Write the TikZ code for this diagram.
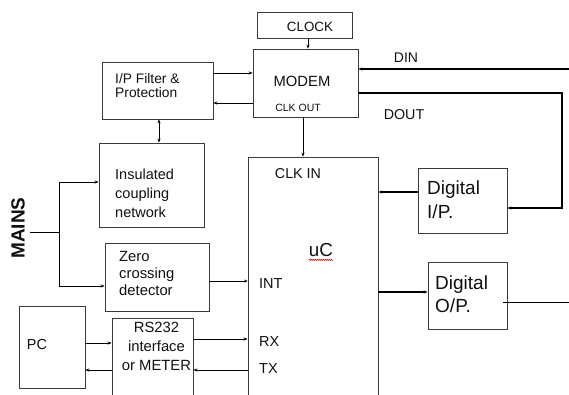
\documentclass[tikz,border=0pt]{standalone}
\usepackage{fontspec}
\setmainfont{Liberation Sans}
\usetikzlibrary{arrows.meta,decorations.pathmorphing}
\definecolor{ln}{HTML}{3A3A3A}
\definecolor{tx}{HTML}{111111}
\tikzset{
  box/.style={draw=ln, line width=0.8pt, rectangle, inner sep=0pt},
  arr/.style={-{Stealth[length=4pt,width=3.2pt]}, line width=0.9pt, draw=black},
  darr/.style={{Stealth[length=4pt,width=3.2pt]}-{Stealth[length=4pt,width=3.2pt]}, line width=0.9pt},
  thinarr/.style={-{Stealth[length=3.5pt,width=3pt]}, line width=0.6pt},
  thick2/.style={line width=1.3pt},
  lbl/.style={text=tx, inner sep=0pt, font=\fontsize{14.5}{19}\selectfont},
}
\begin{document}
\begin{tikzpicture}[x=1pt,y=-1pt]
\path[use as bounding box] (0,0) rectangle (569,394);
\clip (0,0) rectangle (569,394);
\fill[white] (0,0) rectangle (569,394);

% boxes
\node[box, minimum width=95pt, minimum height=26pt] (clock) at (304.5,25) {};
\node[box, minimum width=105pt, minimum height=68pt] (modem) at (305.5,83) {};
\node[box, minimum width=111pt, minimum height=57pt] (ipf) at (157.5,90.5) {};
\node[box, minimum width=105pt, minimum height=84pt] (ins) at (151.5,185) {};
\node[box, minimum width=104pt, minimum height=68pt] (zero) at (157,277) {};
\node[box, minimum width=66pt, minimum height=82pt] (pc) at (52,347) {};
\node[box, minimum width=81pt, minimum height=84pt] (rs) at (152.5,360) {};
\node[box, minimum width=130pt, minimum height=245pt] (uc) at (313,279.5) {};
\node[box, minimum width=89pt, minimum height=65pt] (dip) at (462.5,200.5) {};
\node[box, minimum width=79pt, minimum height=67pt] (dop) at (467.5,295.5) {};

% texts
\node[lbl, font=\fontsize{13.4}{16}\selectfont] (tclock) at (310,27) {CLOCK};
\node[lbl, font=\fontsize{14.8}{18}\selectfont] (tmodem) at (302,81) {MODEM};
\node[lbl, font=\fontsize{10.5}{13}\selectfont] (tclkout) at (298,108) {CLK OUT};
\node[lbl, font=\fontsize{14}{17}\selectfont] (tdin) at (406,58) {DIN};
\node[lbl, font=\fontsize{14.3}{17}\selectfont] (tdout) at (404,115) {DOUT};
\node[lbl, anchor=west, align=left, font=\fontsize{13.8}{14}\selectfont] (tipf) at (115,86) {I/P Filter \&\\Protection};
\node[lbl, anchor=west, align=left] (tins) at (115,193) {Insulated\\coupling\\network};
\node[lbl, anchor=west, align=left, font=\fontsize{14.8}{17}\selectfont] (tzero) at (119,273) {Zero\\crossing\\detector};
\node[lbl, align=center, font=\fontsize{14.8}{19}\selectfont] (trs) at (156.5,346) {RS232\\interface\\or METER};
\node[lbl] (tpc) at (37,344) {PC};
\node[lbl, font=\fontsize{14.3}{17}\selectfont] (tclkin) at (298,174) {CLK IN};
\node[lbl, font=\fontsize{18.8}{22}\selectfont] (tuc) at (321,250) {uC};
\draw[red!80!black, line width=0.5pt, decorate, decoration={zigzag, segment length=2pt, amplitude=0.6pt}] (tuc.south west) ++(0,3) -- ++(24,0);
\node[lbl, anchor=west] (tint) at (259,284) {INT};
\node[lbl, anchor=west] (trx) at (259,342) {RX};
\node[lbl, anchor=west] (ttx) at (259,369) {TX};
\node[lbl, anchor=west, align=left, font=\fontsize{19}{24}\selectfont] (tdip) at (427,200) {Digital\\I/P.};
\node[lbl, anchor=west, align=left, font=\fontsize{19}{23}\selectfont] (tdop) at (435,294.5) {Digital\\O/P.};
\node[lbl, rotate=90, font=\fontsize{19}{22}\selectfont\bfseries] (tmains) at (18,228) {MAINS};

% coordinates
\coordinate (din) at (569,69);
\coordinate (doutcorner) at (562,93);
\coordinate (dopend) at (569,302);
\coordinate (mainsin) at (30,232);
\coordinate (mtop) at (59,182);
\coordinate (mbot) at (59,286);

% connectors
\draw[arr, line width=0.7pt] (clock.south -| 308,0) -- (modem.north -| 308,0);
\draw[arr] (ipf.east |- 0,73) -- (modem.west |- 0,73);
\draw[arr] (modem.west |- 0,103) -- (ipf.east |- 0,103);
\draw[darr] (ipf.south -| 159,0) -- (ins.north -| 159,0);
\draw[arr, thick2] (din) -- (modem.east |- din);
\draw[arr, thick2] (modem.east |- doutcorner) -- (doutcorner) -- (doutcorner |- 0,208) -- (dip.east |- 0,208);
\draw[arr] (modem.south -| 303,0) -- (uc.north -| 303,0);
\draw[arr, thick2] (dip.west |- 0,192) -- (uc.east |- 0,192);
\draw[arr, thick2] (uc.east |- 0,292) -- (dop.west |- 0,292);
\draw[line width=0.8pt] (503,302) -- (dopend);
\draw[line width=0.9pt] (mainsin) -- (mainsin -| mtop);
\draw[line width=0.9pt] (mtop) -- (mbot);
\draw[arr] (mtop) -- (ins.west |- mtop);
\draw[arr] (mbot) -- (zero.west |- mbot);
\draw[thinarr] (zero.east |- 0,281) -- (uc.west |- 0,281);
\draw[arr] (pc.east |- 0,343) -- (rs.west |- 0,343);
\draw[arr] (rs.west |- 0,370) -- (pc.east |- 0,370);
\draw[arr] (rs.east |- 0,339) -- (uc.west |- 0,339);
\draw[arr] (uc.west |- 0,370) -- (rs.east |- 0,370);
\end{tikzpicture}
\end{document}
